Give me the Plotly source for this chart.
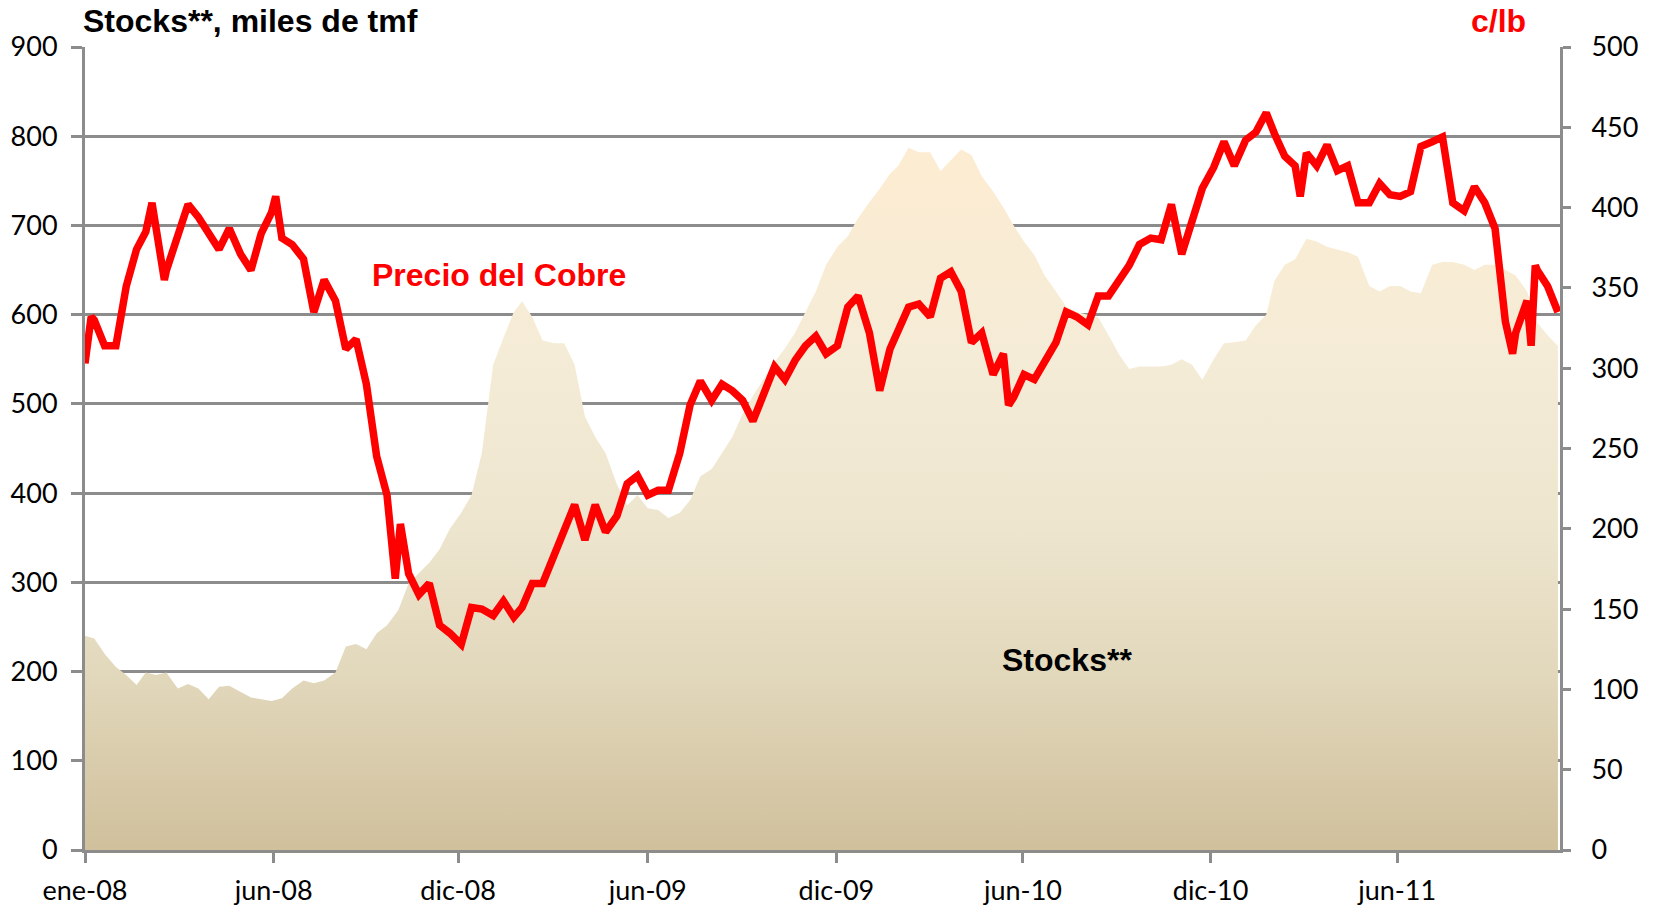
import plotly.graph_objects as go

# ---------------- data ----------------
fechas_stocks = [
    "2008-01-02", "2008-01-11", "2008-01-21", "2008-02-01", "2008-02-11", "2008-02-21",
    "2008-03-01", "2008-03-11", "2008-03-21", "2008-04-01", "2008-04-11", "2008-04-21",
    "2008-05-01", "2008-05-11", "2008-05-21", "2008-06-01", "2008-06-11", "2008-06-21",
    "2008-07-01", "2008-07-11", "2008-07-21", "2008-08-01", "2008-08-11", "2008-08-21",
    "2008-09-01", "2008-09-11", "2008-09-21", "2008-10-01", "2008-10-11", "2008-10-21",
    "2008-11-01", "2008-11-11", "2008-11-21", "2008-12-01", "2008-12-11", "2008-12-21",
    "2009-01-01", "2009-01-11", "2009-01-21", "2009-02-01", "2009-02-11", "2009-02-21",
    "2009-03-01", "2009-03-11", "2009-03-21", "2009-04-01", "2009-04-11", "2009-04-21",
    "2009-05-01", "2009-05-11", "2009-05-21", "2009-06-01", "2009-06-11", "2009-06-21",
    "2009-07-01", "2009-07-11", "2009-07-21", "2009-08-01", "2009-08-11", "2009-08-21",
    "2009-09-01", "2009-09-11", "2009-09-21", "2009-10-01", "2009-10-11", "2009-10-21",
    "2009-11-01", "2009-11-11", "2009-11-21", "2009-12-01", "2009-12-11", "2009-12-21",
    "2010-01-01", "2010-01-11", "2010-01-21", "2010-02-01", "2010-02-11", "2010-02-21",
    "2010-03-01", "2010-03-11", "2010-03-21", "2010-04-01", "2010-04-11", "2010-04-21",
    "2010-05-01", "2010-05-11", "2010-05-21", "2010-06-01", "2010-06-11", "2010-06-21",
    "2010-07-01", "2010-07-11", "2010-07-21", "2010-08-01", "2010-08-11", "2010-08-21",
    "2010-09-01", "2010-09-11", "2010-09-21", "2010-10-01", "2010-10-11", "2010-10-21",
    "2010-11-01", "2010-11-11", "2010-11-21", "2010-12-01", "2010-12-11", "2010-12-21",
    "2011-01-01", "2011-01-11", "2011-01-21", "2011-02-01", "2011-02-11", "2011-02-21",
    "2011-03-01", "2011-03-11", "2011-03-21", "2011-04-01", "2011-04-11", "2011-04-21",
    "2011-05-01", "2011-05-11", "2011-05-21", "2011-06-01", "2011-06-11", "2011-06-21",
    "2011-07-01", "2011-07-11", "2011-07-21", "2011-08-01", "2011-08-11", "2011-08-21",
    "2011-09-01", "2011-09-11", "2011-09-21", "2011-10-01", "2011-10-11", "2011-10-21",
    "2011-11-01", "2011-11-11", "2011-11-21", "2011-12-01",
]
stocks = [
    240, 237, 220, 205, 196, 185,
    199, 196, 199, 181, 186, 181,
    169, 183, 184, 177, 171, 169,
    167, 170, 181, 190, 187, 190,
    199, 228, 231, 225, 243, 252,
    269, 299, 310, 322, 337, 360,
    378, 398, 445, 544, 574, 603,
    615, 597, 571, 568, 568, 544,
    486, 463, 445, 410, 386, 398,
    383, 381, 372, 378, 392, 419,
    427, 445, 463, 489, 509, 527,
    547, 562, 580, 603, 626, 656,
    676, 688, 708, 726, 741, 758,
    767, 787, 782, 782, 761, 773,
    785, 779, 755, 738, 720, 700,
    682, 667, 644, 626, 609, 603,
    600, 597, 577, 556, 539, 542,
    542, 542, 544, 550, 544, 527,
    550, 568, 569, 571, 588, 600,
    638, 656, 662, 685, 682, 676,
    673, 670, 665, 632, 626, 632,
    632, 626, 624, 656, 659, 659,
    656, 650, 656, 656, 650, 644,
    626, 591, 577, 565,
]

fechas_precio = [
    "2008-01-02", "2008-01-08", "2008-01-11", "2008-01-21", "2008-02-01", "2008-02-11", "2008-02-21",
    "2008-03-01", "2008-03-07", "2008-03-11", "2008-03-19", "2008-03-21", "2008-04-01", "2008-04-11",
    "2008-04-21", "2008-05-01", "2008-05-11", "2008-05-21", "2008-06-01", "2008-06-11", "2008-06-21",
    "2008-07-01", "2008-07-05", "2008-07-11", "2008-07-21", "2008-08-01", "2008-08-11", "2008-08-21",
    "2008-09-01", "2008-09-11", "2008-09-21", "2008-10-01", "2008-10-11", "2008-10-21", "2008-10-29",
    "2008-11-03", "2008-11-11", "2008-11-21", "2008-12-01", "2008-12-11", "2008-12-21",
    "2009-01-01", "2009-01-11", "2009-01-21", "2009-02-01", "2009-02-11", "2009-02-21",
    "2009-03-01", "2009-03-11", "2009-03-21", "2009-04-01", "2009-04-11", "2009-04-21",
    "2009-05-01", "2009-05-11", "2009-05-21", "2009-06-01", "2009-06-11", "2009-06-21",
    "2009-07-01", "2009-07-11", "2009-07-21", "2009-08-01", "2009-08-11", "2009-08-21",
    "2009-09-01", "2009-09-11", "2009-09-21", "2009-10-01", "2009-10-11", "2009-10-21",
    "2009-11-01", "2009-11-11", "2009-11-21", "2009-12-01", "2009-12-11", "2009-12-21",
    "2010-01-01", "2010-01-11", "2010-01-21", "2010-02-01", "2010-02-11", "2010-02-21",
    "2010-03-01", "2010-03-11", "2010-03-21", "2010-04-01", "2010-04-11", "2010-04-21",
    "2010-05-01", "2010-05-11", "2010-05-21", "2010-06-01", "2010-06-11", "2010-06-16", "2010-06-21",
    "2010-07-01", "2010-07-11", "2010-07-21", "2010-08-01", "2010-08-11", "2010-08-21",
    "2010-09-01", "2010-09-11", "2010-09-21", "2010-10-01", "2010-10-11", "2010-10-21",
    "2010-11-01", "2010-11-11", "2010-11-21", "2010-12-01", "2010-12-11", "2010-12-21",
    "2011-01-01", "2011-01-11", "2011-01-21", "2011-02-01", "2011-02-11", "2011-02-21",
    "2011-03-01", "2011-03-11", "2011-03-21", "2011-03-26", "2011-04-01", "2011-04-11", "2011-04-21",
    "2011-05-01", "2011-05-11", "2011-05-21", "2011-06-01", "2011-06-11", "2011-06-21",
    "2011-07-01", "2011-07-11", "2011-07-21", "2011-08-01", "2011-08-11", "2011-08-21",
    "2011-09-01", "2011-09-11", "2011-09-21", "2011-10-01", "2011-10-11", "2011-10-18", "2011-10-21",
    "2011-11-01", "2011-11-05", "2011-11-09", "2011-11-11", "2011-11-21", "2011-12-01",
]
precio = [
    303, 332, 330, 314, 314, 351, 374,
    385, 403, 389, 355, 361, 384, 402,
    394, 385, 374, 387, 371, 361, 384,
    397, 407, 381, 377, 368, 335, 355,
    342, 312, 318, 290, 245, 221, 169,
    203, 172, 159, 166, 140, 135,
    128, 151, 150, 146, 155, 145,
    151, 166, 166, 184, 198, 215,
    193, 215, 198, 208, 228, 233,
    221, 224, 224, 247, 277, 292,
    280, 290, 286, 280, 267, 283,
    301, 293, 305, 314, 320, 309,
    314, 338, 345, 322, 286, 312,
    324, 338, 340, 332, 356, 360,
    348, 316, 322, 296, 309, 277, 282,
    296, 293, 303, 316, 335, 332,
    327, 345, 345, 355, 364, 377,
    381, 380, 402, 371, 390, 412,
    425, 441, 426, 442, 447, 459,
    446, 432, 426, 407, 434, 426, 439,
    423, 426, 403, 403, 415, 408,
    407, 410, 438, 441, 444, 403,
    398, 413, 403, 387, 329, 309, 322,
    342, 314, 364, 361, 351, 335,
]

tick_fechas = ["2008-01-02", "2008-07-03", "2008-12-29", "2009-07-01",
               "2009-12-31", "2010-06-30", "2010-12-29", "2011-06-28"]
tick_textos = ["ene-08", "jun-08", "dic-08", "jun-09", "dic-09", "jun-10", "dic-10", "jun-11"]

# ---------------- figure ----------------
GRIS = "#8C8C8C"
TICKFONT = dict(family="Lato, Liberation Sans, Arial", size=27, color="#000000")
BOLD = "Liberation Sans, Arial"

fig = go.Figure()

fig.add_trace(go.Scatter(
    x=fechas_stocks, y=stocks, mode="lines", name="Stocks**",
    line=dict(width=0, color="rgba(0,0,0,0)"),
    fill="tozeroy",
    fillgradient=dict(
        type="vertical",
        colorscale=[[0.0, "#D0C09C"], [0.25, "#E2D8BC"], [0.45, "#EDE5CE"],
                    [0.7, "#F5ECD7"], [1.0, "#FDECD1"]],
        start=0, stop=800,
    ),
    yaxis="y", hoverinfo="skip", showlegend=False,
))

fig.add_trace(go.Scatter(
    x=fechas_precio, y=precio, mode="lines", name="Precio del Cobre",
    line=dict(color="#FF0000", width=7.5),
    yaxis="y2", showlegend=False,
))

fig.update_layout(
    width=1657, height=908,
    paper_bgcolor="#FFFFFF", plot_bgcolor="#FFFFFF",
    margin=dict(l=85, r=97, t=47, b=58, autoexpand=False),
    showlegend=False,
    xaxis=dict(
        type="date", range=["2008-01-02", "2011-12-03"],
        tickmode="array", tickvals=tick_fechas, ticktext=tick_textos,
        ticks="outside", ticklen=10, tickwidth=3, tickcolor=GRIS,
        showline=True, linecolor=GRIS, linewidth=3,
        showgrid=False, zeroline=False, tickfont=TICKFONT,
        ticklabelstandoff=5,
    ),
    yaxis=dict(
        range=[0, 900], tickmode="linear", tick0=0, dtick=100,
        ticks="outside", ticklen=11, tickwidth=3, tickcolor=GRIS,
        showline=True, linecolor=GRIS, linewidth=3,
        showgrid=True, gridcolor=GRIS, gridwidth=3, zeroline=False,
        tickfont=TICKFONT, ticklabelstandoff=8,
    ),
    yaxis2=dict(
        range=[0, 500], tickmode="linear", tick0=0, dtick=50,
        overlaying="y", side="right",
        ticks="outside", ticklen=8, tickwidth=3, tickcolor=GRIS,
        showline=True, linecolor=GRIS, linewidth=3,
        showgrid=False, zeroline=False,
        tickfont=TICKFONT, ticklabelstandoff=15,
    ),
    annotations=[
        dict(text="<b>Stocks**, miles de tmf</b>", xref="paper", yref="paper",
             x=-0.003, y=1.033, xanchor="left", yanchor="middle", showarrow=False,
             font=dict(family=BOLD, size=32, color="#000000")),
        dict(text="<b>c/lb</b>", xref="paper", yref="paper",
             x=0.958, y=1.033, xanchor="center", yanchor="middle", showarrow=False,
             font=dict(family=BOLD, size=32, color="#FF0000")),
        dict(text="<b>Precio del Cobre</b>", xref="paper", yref="paper",
             x=0.2807, y=0.7165, xanchor="center", yanchor="middle", showarrow=False,
             font=dict(family=BOLD, size=32, color="#FF0000")),
        dict(text="<b>Stocks**</b>", xref="paper", yref="paper",
             x=0.6658, y=0.2368, xanchor="center", yanchor="middle", showarrow=False,
             font=dict(family=BOLD, size=32, color="#000000")),
    ],
)

fig.write_html("out.html", config={"displayModeBar": False})

# remove the browser's default page margin so the figure fills the window exactly
with open("out.html", "r", encoding="utf-8") as f:
    html = f.read()
html = html.replace("<head>", "<head><style>html,body{margin:0;padding:0;overflow:hidden;}</style>", 1)
with open("out.html", "w", encoding="utf-8") as f:
    f.write(html)
